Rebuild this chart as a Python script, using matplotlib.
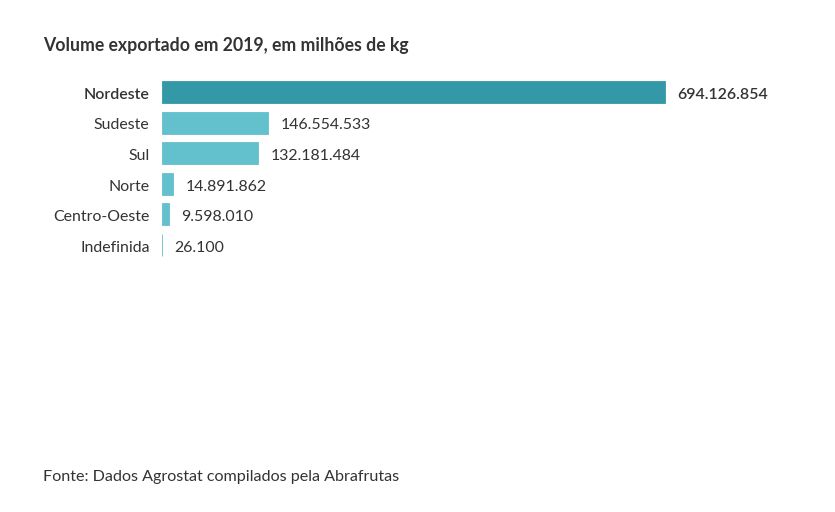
import matplotlib
matplotlib.use("Agg")
import matplotlib.pyplot as plt

regioes = ["Nordeste", "Sudeste", "Sul", "Norte", "Centro-Oeste", "Indefinida"]
volumes = [694126854, 146554533, 132181484, 14891862, 9598010, 26100]
rotulos = ["694.126.854", "146.554.533", "132.181.484", "14.891.862", "9.598.010", "26.100"]

plt.rcParams['font.family'] = ['Lato', 'DejaVu Sans']

cor_destaque = '#3499a7'
cor_normal = '#62c1cd'
cor_texto = '#333333'

fig = plt.figure(figsize=(8.35, 5.12), dpi=100)
ax = fig.add_axes([162/835, 1-260.3/512, 638/835, 183.6/512])

ypos = list(range(len(regioes)))
cores = [cor_destaque] + [cor_normal]*(len(regioes)-1)
ax.barh(ypos, volumes, height=0.72, color=cores, edgecolor=cores, linewidth=0.6)
ax.set_xlim(0, 880.5e6)
ax.set_ylim(len(regioes)-0.5, -0.5)

for i, (v, r) in enumerate(zip(volumes, rotulos)):
    peso = 600 if i == 0 else 400
    ax.annotate(r, (v, i), xytext=(9, -2), textcoords='offset points',
                va='center', ha='left', fontsize=11.4, color=cor_texto, fontweight=peso)
    ax.annotate(regioes[i], (0, i), xytext=(-9, -2), textcoords='offset points',
                ha='right', va='center', fontsize=11.4, color=cor_texto, fontweight=peso)

ax.set_xticks([])
ax.set_yticks([])
for s in ax.spines.values():
    s.set_visible(False)

fig.text(43/835, 1-45/512, 'Volume exportado em 2019, em milhões de kg',
         fontsize=12.7, fontweight=700, color=cor_texto, va='center')
fig.text(43/835, 1-477/512, 'Fonte: Dados Agrostat compilados pela Abrafrutas',
         fontsize=11.6, color=cor_texto, va='center')

fig.savefig('out.png', dpi=100)
